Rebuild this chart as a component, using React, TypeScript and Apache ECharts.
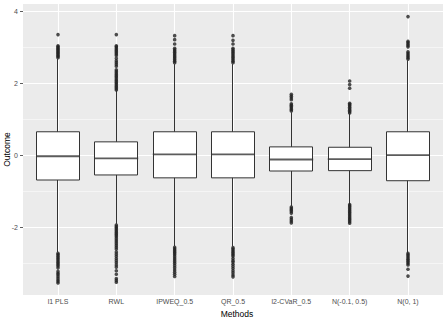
import React, { useEffect, useRef } from "react";
import * as echarts from "echarts";

const categories = ["l1 PLS", "RWL", "IPWEQ_0.5", "QR_0.5", "l2-CVaR_0.5", "N(-0.1, 0.5)", "N(0, 1)"];
const whiskerLow = [-2.68, -1.9, -2.52, -2.52, -1.4, -1.36, -2.7];
const q1 = [-0.68, -0.54, -0.62, -0.62, -0.43, -0.42, -0.7];
const median = [-0.02, -0.08, 0.03, 0.03, -0.11, -0.1, 0.01];
const q3 = [0.66, 0.38, 0.66, 0.66, 0.24, 0.23, 0.66];
const whiskerHigh = [2.68, 1.8, 2.54, 2.54, 1.2, 1.15, 2.64];

const outL1PLS = [2.72, 2.75, 2.78, 2.81, 2.84, 2.87, 2.9, 2.93, 2.96, 2.99, 3.02, 3.05, 3.36,
  -2.72, -2.75, -2.79, -2.83, -2.87, -2.91, -2.95, -2.99, -3.03, -3.07, -3.12, -3.22, -3.27, -3.31, -3.36, -3.41, -3.46, -3.5, -3.54];
const outRWL = [1.82, 1.86, 1.9, 1.94, 1.98, 2.02, 2.06, 2.1, 2.14, 2.18, 2.22, 2.26, 2.3, 2.34, 2.38, 2.48, 2.53, 2.58, 2.63, 2.7, 2.78, 2.82, 2.86, 2.9, 2.94, 2.98, 3.02, 3.05, 3.36,
  -1.93, -1.97, -2.01, -2.05, -2.09, -2.13, -2.17, -2.21, -2.25, -2.3, -2.35, -2.4, -2.45, -2.5, -2.55, -2.6, -2.68, -2.74, -2.8, -2.86, -2.92, -2.98, -3.04, -3.1, -3.2, -3.3, -3.42, -3.47, -3.52];
const outIPWEQ = [2.58, 2.62, 2.66, 2.7, 2.74, 2.78, 2.82, 2.86, 2.9, 2.94, 2.98, 3.1, 3.22, 3.33,
  -2.55, -2.59, -2.63, -2.67, -2.71, -2.75, -2.8, -2.85, -2.9, -2.95, -3.0, -3.06, -3.12, -3.18, -3.24, -3.3, -3.36];
const outQR = [2.58, 2.62, 2.66, 2.7, 2.74, 2.78, 2.82, 2.86, 2.9, 2.94, 2.98, 3.1, 3.2, 3.33,
  -2.56, -2.6, -2.64, -2.68, -2.72, -2.76, -2.8, -2.86, -2.92, -2.96, -3.02, -3.08, -3.14, -3.2, -3.26, -3.32, -3.37];
const outCVaR = [1.24, 1.28, 1.32, 1.36, 1.4, 1.44, 1.55, 1.6, 1.65, 1.7,
  -1.43, -1.47, -1.51, -1.55, -1.6, -1.72, -1.77, -1.82, -1.87];
const outN05 = [1.18, 1.22, 1.26, 1.3, 1.34, 1.38, 1.42, 1.45, 1.87, 1.97, 2.07,
  -1.36, -1.4, -1.44, -1.48, -1.52, -1.56, -1.6, -1.64, -1.68, -1.72, -1.76, -1.8, -1.84, -1.88];
const outN01 = [2.68, 2.72, 2.76, 2.8, 2.84, 2.88, 3.02, 3.06, 3.1, 3.14, 3.17, 3.86,
  -2.72, -2.76, -2.8, -2.84, -2.88, -2.92, -2.96, -3.0, -3.04, -3.16, -3.35];
const outliers = [outL1PLS, outRWL, outIPWEQ, outQR, outCVaR, outN05, outN01];

const yMajorTicks = [-2, 0, 2, 4];
const yMinorTicks = [-3, -1, 1, 3];
const yMin = -3.875;
const yMax = 4.21;

const FONT = "'Liberation Sans', Arial, Helvetica, sans-serif";

export default function App() {
  const ref = useRef<HTMLDivElement>(null);
  useEffect(() => {
    if (!ref.current) return;
    const chart = echarts.init(ref.current, null, { renderer: "svg" });
    const panelLeft = 23;
    const panelWidth = 420;
    const n = categories.length;
    const expand = 0.6;
    const span = n - 1 + 2 * expand;
    const unit = panelWidth / span;
    const xCenters = categories.map((_, i) => i + 1);
    chart.setOption({
      animation: false,
      textStyle: { fontFamily: FONT },
      grid: [
        { left: panelLeft, top: 4, width: panelWidth, height: 291, show: true, backgroundColor: "#EBEBEB", borderWidth: 0, containLabel: false, outerBoundsMode: "none" },
        { left: panelLeft + unit * (expand - 0.5), top: 4, width: unit * n, height: 291, containLabel: false, outerBoundsMode: "none" },
      ],
      xAxis: [
        {
          gridIndex: 0, type: "value", min: 1 - expand, max: n + expand,
          axisLine: { show: false },
          axisTick: { show: false, customValues: xCenters },
          axisLabel: { show: false, customValues: xCenters },
          splitLine: { show: true, lineStyle: { color: "#FFFFFF", width: 1.1 } },
        },
        {
          gridIndex: 1, type: "category", data: categories, boundaryGap: true,
          axisLine: { show: false },
          axisTick: { show: true, alignWithLabel: true, length: 3, lineStyle: { color: "#333333", width: 0.8 } },
          axisLabel: { interval: 0, color: "#4D4D4D", fontSize: 7, margin: 3, fontFamily: FONT },
          splitLine: { show: false },
          name: "Methods", nameLocation: "middle", nameGap: 10,
          nameTextStyle: { color: "#000000", fontSize: 8.5, fontFamily: FONT, padding: [0, 0, 0, 8] },
        },
      ],
      yAxis: [
        {
          gridIndex: 0, type: "value", min: yMin, max: yMax,
          axisLine: { show: false },
          axisTick: { show: true, customValues: yMajorTicks, length: 3, lineStyle: { color: "#333333", width: 0.8 } },
          axisLabel: { customValues: yMajorTicks, color: "#4D4D4D", fontSize: 7, margin: 5, fontFamily: FONT },
          splitLine: { show: true, lineStyle: { color: "#FFFFFF", width: 1.1 } },
          name: "Outcome", nameLocation: "middle", nameGap: 12, nameMoveOverlap: false,
          nameTextStyle: { color: "#000000", fontSize: 8.5, fontFamily: FONT },
        },
        {
          gridIndex: 0, type: "value", min: yMin, max: yMax, position: "left",
          axisLine: { show: false },
          axisTick: { show: false, customValues: yMinorTicks },
          axisLabel: { show: false, customValues: yMinorTicks },
          splitLine: { show: true, lineStyle: { color: "#FFFFFF", width: 0.5 } },
        },
        { gridIndex: 1, type: "value", min: yMin, max: yMax, show: false, splitLine: { show: false } },
      ],
      series: [
        {
          type: "candlestick", xAxisIndex: 1, yAxisIndex: 2, barWidth: "75%",
          data: categories.map((_, i) => [q1[i], q3[i], whiskerLow[i], whiskerHigh[i]]),
          itemStyle: { color: "#FFFFFF", color0: "#FFFFFF", borderColor: "#333333", borderColor0: "#333333", borderWidth: 1 },
          z: 3,
        },
        {
          type: "scatter", xAxisIndex: 1, yAxisIndex: 2, symbol: "rect", symbolSize: [unit * 0.75, 1.8],
          data: categories.map((_, i) => [i, median[i]]),
          itemStyle: { color: "#333333" }, z: 4,
        },
        {
          type: "scatter", xAxisIndex: 1, yAxisIndex: 2, symbol: "circle", symbolSize: 3.6,
          data: outliers.flatMap((vals, i) => vals.map((v) => [i, v])),
          itemStyle: { color: "#222222" }, z: 5,
        },
      ],
    });
    return () => chart.dispose();
  }, []);
  return <div ref={ref} style={{ position: "fixed", left: 0, top: 0, width: 447, height: 318, background: "#FFFFFF" }} />;
}
